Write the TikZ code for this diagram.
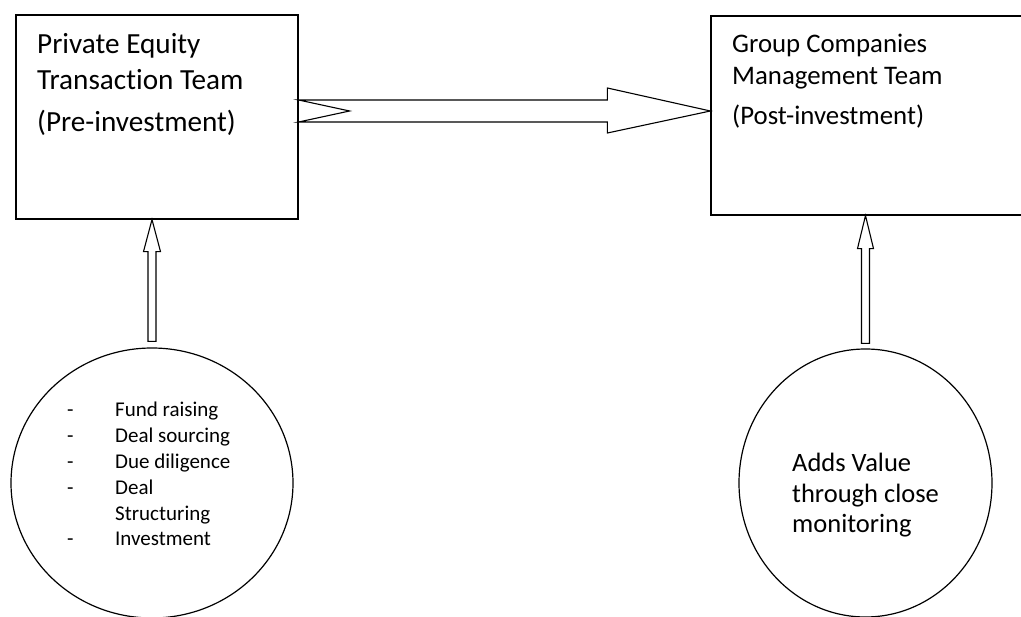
\documentclass[tikz,border=0pt]{standalone}
\usepackage{fontspec}
\setmainfont{Carlito}[Ligatures={NoCommon,NoRare,NoContextual}]
\usetikzlibrary{shapes.geometric,calc}
\tikzset{
  box/.style={draw, line width=1.2pt, rectangle, inner sep=0pt},
  oval/.style={draw, line width=1.2pt, ellipse, inner sep=0pt},
  fat/.style={draw, line width=1.1pt, fill=white, line join=miter},
  lbl/.style={anchor=base west, inner sep=0pt},
}
\begin{document}
\begin{tikzpicture}[x=1pt,y=-1pt]
\useasboundingbox (0,0) rectangle (1021,617);
% boxes
\node[box, minimum width=282, minimum height=204] (pe) at (157,117) {};
\node[box, minimum width=330, minimum height=199] (gc) at (876,115.5) {};
% circles
\node[oval, minimum width=282, minimum height=270] (c1) at (152,483) {};
\node[oval, minimum width=253, minimum height=268] (c2) at (865.5,483) {};
% box texts
\begin{scope}[font=\fontsize{29.2}{34}\selectfont]
\node[lbl] (pe1) at (37,54) {Private Equity};
\node[lbl] (pe2) at (37,90) {Transaction Team};
\node[lbl] (pe3) at (37,132) {(Pre-investment)};
\end{scope}
\begin{scope}[font=\fontsize{26.8}{32}\selectfont]
\node[lbl] (gc1) at (732,53) {Group Companies};
\node[lbl] (gc2) at (732,85) {Management Team};
\node[lbl] (gc3) at (732,125) {(Post-investment)};
\end{scope}
% circle texts
\node[lbl] (list) at (67,417) {\fontsize{21}{25.8}\selectfont
  \begin{tabular}[t]{@{}p{48pt}@{}l@{}}
  - & Fund raising\\
  - & Deal sourcing\\
  - & Due diligence\\
  - & Deal\\
    & Structuring\\
  - & Investment
  \end{tabular}};
\begin{scope}[font=\fontsize{26.5}{30.5}\selectfont]
\node[lbl] (av1) at (792,472) {Adds Value};
\node[lbl] (av2) at (792,502.5) {through close};
\node[lbl] (av3) at (792,533) {monitoring};
\end{scope}
% big horizontal arrow
\coordinate (t) at (pe.east |- 0,111);
\coordinate (h) at (gc.west |- 0,111);
\draw[fat] ($(t)+(0,-11)$) -- ($(h)+(-103,-11)$) -- ($(h)+(-103,-23)$) -- (h)
  -- ($(h)+(-103,22)$) -- ($(h)+(-103,11)$) -- ($(t)+(0,11)$) -- ($(t)+(51,0)$) -- cycle;
% up arrows
\coordinate (l1) at (c1.north |- pe.south);
\coordinate (l0) at ($(c1.north)+(0,-6)$);
\draw[fat] (l0) ++(-4,0) |- ($(l1)+(-8.5,32)$) -- (l1) -- ($(l1)+(8.5,32)$) -| ($(l0)+(4,0)$) -- cycle;
\coordinate (r1) at (c2.north |- gc.south);
\coordinate (r0) at ($(c2.north)+(0,-5)$);
\draw[fat] (r0) ++(-4,0) |- ($(r1)+(-8,33)$) -- (r1) -- ($(r1)+(8,33)$) -| ($(r0)+(4,0)$) -- cycle;
\end{tikzpicture}
\end{document}
